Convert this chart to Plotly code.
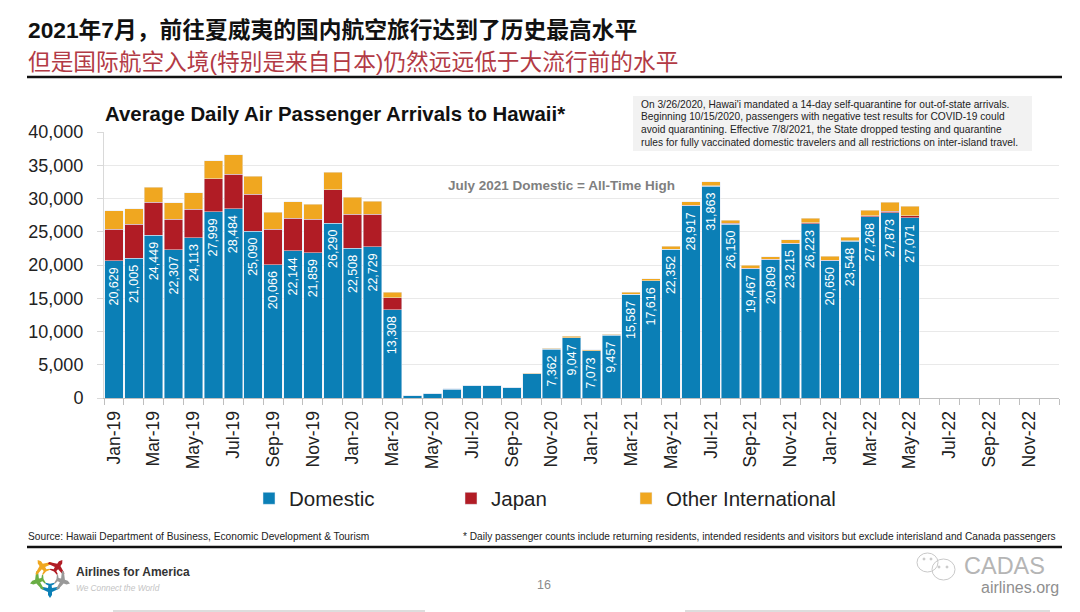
import math
import plotly.graph_objects as go

months = [f"{m}-{y}" for y in ("19", "20", "21", "22")
          for m in ("Jan", "Feb", "Mar", "Apr", "May", "Jun", "Jul", "Aug", "Sep", "Oct", "Nov", "Dec")]

domestic = [20629, 21005, 24449, 22307, 24113, 27999, 28484, 25090, 20066, 22144, 21859, 26290,
            22508, 22729, 13308, 350, 700, 1350, 1900, 1900, 1600, 3650, 7362, 9047,
            7073, 9457, 15587, 17616, 22352, 28917, 31863, 26150, 19467, 20809, 23215, 26223,
            20650, 23548, 27268, 27873, 27071]
japan = [4720, 5095, 5011, 4543, 4290, 5000, 5190, 5570, 5280, 4910, 4990, 5010,
         5100, 4920, 1770, 5, 5, 5, 5, 5, 5, 5, 10, 20,
         20, 20, 30, 30, 50, 60, 90, 110, 80, 70, 80, 100,
         90, 100, 130, 180, 300]
other = [2810, 2360, 2200, 2510, 2500, 2700, 2900, 2710, 2610, 2450, 2250, 2670,
         2600, 1910, 850, 20, 20, 30, 40, 40, 40, 80, 100, 200,
         130, 140, 270, 300, 400, 500, 550, 490, 440, 360, 505, 730,
         600, 550, 800, 1350, 1430]
labelled = [d >= 7000 for d in domestic]

note_lines = [
    "On 3/26/2020, Hawai'i mandated a 14-day self-quarantine for out-of-state arrivals.",
    "Beginning 10/15/2020, passengers with negative test results for COVID-19 could",
    "avoid quarantining. Effective 7/8/2021, the State dropped testing and quarantine",
    "rules for fully vaccinated domestic travelers and all restrictions on inter-island travel.",
]

BLUE, RED, ORANGE = "#0B7FB6", "#B11C25", "#F0A720"
FONT = "Liberation Sans"
CJK = "Liberation Sans, Noto Sans CJK SC"
L, R, T, B = 104, 1059, 132, 398


def px(x):
    return (x - L) / (R - L)


def py(y):
    return (B - y) / (B - T)


def text(x, y, s, size, color="#222222", anchor="left", bold=False, family=FONT, **kw):
    return dict(xref="paper", yref="paper", x=px(x), y=py(y), text=f"<b>{s}</b>" if bold else s,
                showarrow=False, xanchor=anchor, yanchor="middle",
                font=dict(size=size, color=color, family=family), **kw)


def rule(x0, x1, y, color, width):
    return dict(type="line", xref="paper", yref="paper", x0=px(x0), x1=px(x1), y0=py(y), y1=py(y),
                line=dict(color=color, width=width))


def plane(cx, cy, angle, color):
    pts = [(0, -21), (2, -18), (2, -15), (9.5, -11.5), (9.5, -9.5), (2, -11), (1.6, -8.5), (4.5, -7), (4.5, -5.8),
           (0, -6.8), (-4.5, -5.8), (-4.5, -7), (-1.6, -8.5), (-2, -11), (-9.5, -9.5), (-9.5, -11.5),
           (-2, -15), (-2, -18)]
    a = math.radians(angle)
    out = []
    for i, (x, y) in enumerate(pts):
        xx = cx + x * math.cos(a) - y * math.sin(a)
        yy = cy + x * math.sin(a) + y * math.cos(a)
        out.append(f"{'M' if i == 0 else 'L'} {px(xx):.5f} {py(yy):.5f}")
    return dict(type="path", xref="paper", yref="paper", path=" ".join(out) + " Z",
                fillcolor=color, line=dict(width=0))


def bubble(x0, y0, x1, y1, filled=False):
    return dict(type="circle", xref="paper", yref="paper", x0=px(x0), x1=px(x1), y0=py(y0), y1=py(y1),
                fillcolor="#C9C9C9" if filled else "rgba(0,0,0,0)",
                line=dict(color="#C9C9C9", width=1))


fig = go.Figure()
fig.add_bar(x=months[:41], y=domestic, name="Domestic", marker_color=BLUE, legend="legend", showlegend=True,
            text=[f"{d:,}\u00a0" if s else "" for d, s in zip(domestic, labelled)],
            textposition="inside", insidetextanchor="end", textangle=-90, constraintext="none",
            insidetextfont=dict(color="white", size=12.5, family=FONT), hoverinfo="x+y")
fig.add_bar(x=months[:41], y=japan, name="Japan", marker_color=RED, legend="legend2", showlegend=True)
fig.add_bar(x=months[:41], y=other, name="Other International", marker_color=ORANGE, legend="legend3",
            showlegend=True)

legend_base = dict(orientation="h", xanchor="left", yanchor="middle", y=py(498.5), bgcolor="rgba(0,0,0,0)",
                   font=dict(size=20.5, color="#222222", family=FONT), itemwidth=30)

shapes = [
    rule(27, 1062, 77, "#111111", 2.5),
    rule(27, 1062, 547, "#111111", 2.5),
    rule(113, 425, 611, "#BBBBBB", 1),
    rule(685, 1050, 611, "#BBBBBB", 1),
    dict(type="rect", xref="paper", yref="paper", x0=px(633), x1=px(1032), y0=py(151), y1=py(96),
         fillcolor="#F2F2F2", line=dict(width=0), layer="above"),
    plane(50, 577, 180, BLUE),
    plane(50, 577, 252, "#6AAE45"),
    plane(50, 577, 324, ORANGE),
    plane(50, 577, 36, RED),
    plane(50, 577, 108, "#999999"),
    bubble(917, 553, 938, 572),
    bubble(932, 559, 955, 580),
    bubble(923, 558, 925, 560, True),
    bubble(930, 558, 932, 560, True),
    bubble(938, 566, 940, 568, True),
    bubble(946, 566, 948, 568, True),
]

annotations = [
    text(26, 30, "2021年7月，前往夏威夷的国内航空旅行达到了历史最高水平", 22.75, "#111111", bold=True, family=CJK),
    text(26, 62, "但是国际航空入境(特别是来自日本)仍然远远低于大流行前的水平", 22.7, "#B23A45", family=CJK),
    text(103, 114, "Average Daily Air Passenger Arrivals to Hawaii*", 20.4, "#111111", bold=True),
    text(561, 185, "July 2021 Domestic = All-Time High", 13.5, "#7F7F7F", "center", bold=True),
    text(26, 536, "Source: Hawaii Department of Business, Economic Development &amp; Tourism", 10.2),
    text(1058, 536, "* Daily passenger counts include returning residents, intended residents and visitors "
         "but exclude interisland and Canada passengers", 10.15, anchor="right"),
    text(74, 572, "Airlines for America", 12, "#333333", bold=True),
    text(74, 588, "<i>We Connect the World</i>", 8.3, "#C4C4C4"),
    text(544, 585, "16", 12.5, "#8C8C8C", "center"),
    text(962, 566, "CADAS", 23.5, "#B5B5B5"),
    text(1061, 587, "airlines.org", 16, "#8F8F8F", "right"),
]
for line, y in zip(note_lines, (104.5, 117, 129.5, 142)):
    annotations.append(text(639, y, line, 10.2))

fig.update_layout(
    width=1080, height=612, autosize=False, showlegend=True,
    margin=dict(l=L, r=1080 - R, t=T, b=612 - B, pad=0),
    paper_bgcolor="white", plot_bgcolor="white",
    barmode="stack", bargap=0.07,
    font=dict(family=FONT, color="#222222"),
    xaxis=dict(type="category", categoryorder="array", categoryarray=months, range=[-0.5, 47.5],
               tickmode="array", tickvals=months,
               ticktext=[m if i % 2 == 0 else "" for i, m in enumerate(months)],
               tickson="boundaries", tickangle=-90, ticks="outside", ticklen=6, tickcolor="#BFBFBF",
               tickfont=dict(size=17.5, color="#222222"), showgrid=False, ticklabelstandoff=5,
               showline=True, linecolor="#BFBFBF", linewidth=1),
    yaxis=dict(range=[0, 40000], dtick=5000, tickformat=",", ticks="outside", ticklen=6, tickcolor="#D9D9D9",
               tickfont=dict(size=18, color="#222222"), gridcolor="#E9E9E9", gridwidth=1, ticklabelstandoff=10,
               showline=True, linecolor="#D9D9D9", zeroline=False),
    legend=dict(legend_base, x=px(249)),
    legend2=dict(legend_base, x=px(451)),
    legend3=dict(legend_base, x=px(626)),
    shapes=shapes, annotations=annotations,
)

fig.write_html("out.html", post_script="document.body.style.margin='0';", config=dict(displayModeBar=False))
